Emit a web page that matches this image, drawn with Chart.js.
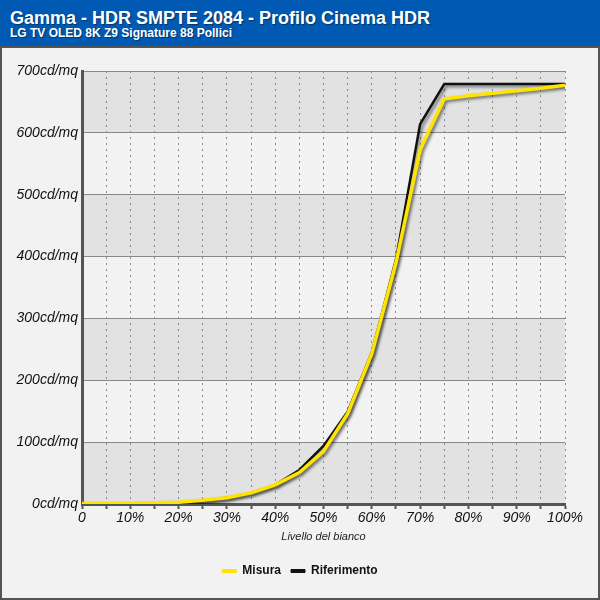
<!DOCTYPE html>
<html>
<head>
<meta charset="utf-8">
<script src="https://cdn.jsdelivr.net/npm/chart.js@4/dist/chart.umd.min.js"></script>
<style>
    body { margin: 0; width: 600px; height: 600px; background: #f2f2f2; position: relative; overflow: hidden; font-family: "Liberation Sans", Arial, sans-serif; }
    #header { position: absolute; left: 0; top: 0; width: 600px; height: 46px; background: #0059b2; }
    #title { position: absolute; left: 10px; top: 9px; font-size: 18px; line-height: 1; font-weight: bold; color: #fff; text-shadow: 1px 1px 1px rgba(0,0,0,0.4); white-space: nowrap; }
    #subtitle { position: absolute; left: 10px; top: 27px; font-size: 12px; line-height: 1; font-weight: bold; color: #fff; text-shadow: 1px 1px 1px rgba(0,0,0,0.4); white-space: nowrap; }
    #frame { position: absolute; left: 0; top: 46px; width: 596px; height: 550px; border: 2px solid #555; }
    #chart { display: block; }
</style>
</head>
<body>
<div id="header">
    <div id="title">Gamma - HDR SMPTE 2084 - Profilo Cinema HDR</div>
    <div id="subtitle">LG TV OLED 8K Z9 Signature 88 Pollici</div>
</div>
<div id="frame"><canvas id="chart" width="596" height="550"></canvas></div>
<script>
// --- Data ---
const levels = [0, 5, 10, 15, 20, 25, 30, 35, 40, 45, 50, 55, 60, 65, 70, 75, 80, 85, 90, 95, 100];
const misura = [1, 1, 1, 2, 3, 6, 10, 18, 31, 51, 85, 146, 243, 390, 573, 655, 660, 664, 668, 672, 677];
const riferimento = [0, 0.1, 0.3, 1, 2.4, 5, 10, 18, 31, 55, 94, 149, 245, 395, 614, 679, 679, 679, 679, 679, 679];
const yTicks = [0, 100, 200, 300, 400, 500, 600, 700];

Chart.defaults.font.family = '"Liberation Sans", Arial, sans-serif';
Chart.defaults.color = '#111';

// alternating grey bands behind the plot
const bandsPlugin = {
    id: 'bands',
    beforeDraw(chart) {
        const { ctx, chartArea, scales: { y } } = chart;
        ctx.save();
        for (let i = 0; i < yTicks.length - 1; i++) {
            if (i % 2 === 0) {
                const top = y.getPixelForValue(yTicks[i + 1]);
                const bottom = y.getPixelForValue(yTicks[i]);
                ctx.fillStyle = '#e2e2e2';
                ctx.fillRect(chartArea.left, top, chartArea.right - chartArea.left, bottom - top);
            }
        }
        ctx.restore();
    }
};

// soft drop shadow under the lines
const shadowPlugin = {
    id: 'lineShadow',
    beforeDatasetDraw(chart) {
        const ctx = chart.ctx;
        ctx.save();
        ctx.shadowColor = 'rgba(0,0,0,0.5)';
        ctx.shadowBlur = 3;
        ctx.shadowOffsetX = 2;
        ctx.shadowOffsetY = 2;
    },
    afterDatasetDraw(chart) {
        chart.ctx.restore();
    }
};

const ctx = document.getElementById('chart').getContext('2d');
new Chart(ctx, {
    type: 'line',
    data: {
        labels: levels,
        datasets: [
            {
                label: 'Misura',
                data: levels.map((x, i) => ({ x: x, y: misura[i] })),
                borderColor: '#ffe400',
                backgroundColor: '#ffe400',
                borderWidth: 3.5,
                pointRadius: 0,
                tension: 0
            },
            {
                label: 'Riferimento',
                data: levels.map((x, i) => ({ x: x, y: riferimento[i] })),
                borderColor: '#111',
                backgroundColor: '#111',
                borderWidth: 2.5,
                pointRadius: 0,
                tension: 0
            }
        ]
    },
    options: {
        responsive: false,
        animation: false,
        layout: { padding: { left: 0, right: 0, top: 23, bottom: 11 } },
        plugins: {
            legend: {
                position: 'bottom',
                labels: {
                    boxWidth: 14,
                    boxHeight: 3,
                    padding: 10,
                    color: '#111',
                    font: { size: 12, weight: 'bold' },
                    generateLabels: chart => Chart.defaults.plugins.legend.labels.generateLabels(chart)
                        .map(l => ({ ...l, lineWidth: 1 }))
                }
            },
            tooltip: { enabled: false }
        },
        scales: {
            x: {
                type: 'linear',
                min: 0,
                max: 100,
                afterFit: s => { s.height = 51; },
                ticks: {
                    stepSize: 5,
                    autoSkip: false,
                    maxRotation: 0,
                    padding: 1,
                    color: '#111',
                    font: { size: 14, style: 'italic' },
                    callback: v => v % 10 === 0 ? (v === 0 ? '0' : v + '%') : ''
                },
                grid: {
                    color: '#888',
                    lineWidth: 1,
                    tickLength: 5,
                    tickColor: '#555',
                    tickWidth: 2,
                    tickBorderDash: []
                },
                border: { color: '#555', width: 3, dash: [2, 4] },
                title: {
                    display: true,
                    text: 'Livello del bianco',
                    color: '#222',
                    font: { size: 11, style: 'italic' },
                    padding: { top: 4, bottom: 11 }
                }
            },
            y: {
                min: 0,
                max: 700,
                afterFit: s => { s.width = 80; },
                ticks: {
                    stepSize: 100,
                    padding: 4,
                    color: '#111',
                    font: { size: 14, style: 'italic' },
                    callback: v => v + 'cd/mq'
                },
                grid: { color: '#888', lineWidth: 1, drawTicks: false },
                border: { color: '#555', width: 3 }
            },
            // empty right-hand spacer so the legend stays centred on the page
            spacer: {
                position: 'right',
                afterFit: s => { s.width = 33; },
                ticks: { display: false },
                grid: { display: false },
                border: { display: false }
            }
        }
    },
    plugins: [bandsPlugin, shadowPlugin]
});
</script>
</body>
</html>
